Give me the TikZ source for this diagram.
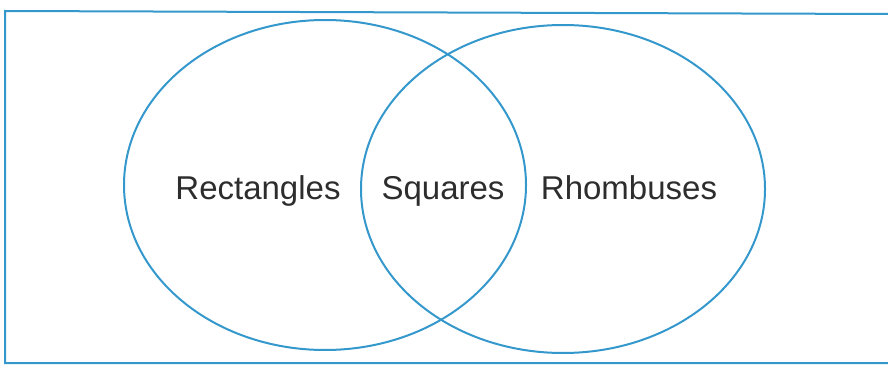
\documentclass[tikz,border=0pt]{standalone}
\usepackage{fontspec}
\setmainfont{Liberation Sans}
\usepackage{tikz}

\definecolor{vennblue}{RGB}{52,152,204}
\definecolor{labelgray}{RGB}{45,45,45}

\tikzset{
  venn/.style={draw=vennblue, line width=2pt},
  setlabel/.style={anchor=base, text=labelgray, inner sep=0pt,
    font=\fontsize{33}{38}\selectfont},
}

\begin{document}
\begin{tikzpicture}[x=1pt, y=-1pt]
  \useasboundingbox (0,0) rectangle (888,366);
  % outer frame (right side not shown)
  \draw[venn, line width=2pt] (888,14) -- (5,11) -- (5,363) -- (888,363);
  % the two sets
  \draw[venn] (325,185) ellipse [x radius=201, y radius=165];
  \draw[venn] (563,189) ellipse [x radius=202, y radius=164];
  \node[setlabel] (rect) at (258,199) {Rectangles};
  \node[setlabel] (squ)  at (443,199) {Squares};
  \node[setlabel] (rhom) at (629,199) {Rhombuses};
\end{tikzpicture}
\end{document}
